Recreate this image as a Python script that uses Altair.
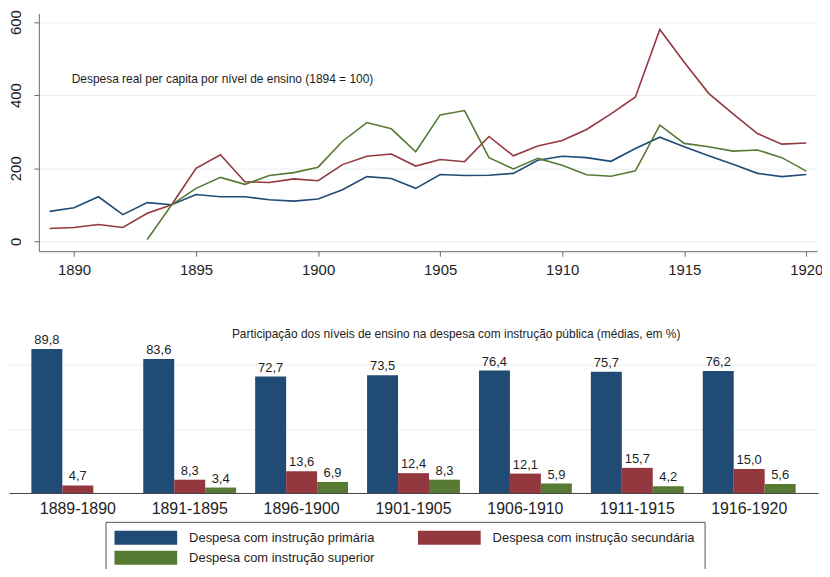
import altair as alt
import pandas as pd

FONT = "Liberation Sans"

# ---------------- data: line chart (index 1894 = 100) ----------------
years = list(range(1889, 1921))
primaria = [82, 92, 122, 73, 106, 100, 128, 122, 122, 114, 110, 116, 141, 177, 172, 145,
            183, 180, 181, 186, 222, 233, 229, 219, 254, 285, 259, 234, 211, 186, 177, 183]
secundaria = [35, 38, 46, 38, 77, 100, 200, 237, 163, 161, 171, 166, 210, 233, 239, 206,
              224, 218, 287, 234, 261, 276, 306, 349, 395, 580, 490, 405, 349, 295, 266, 269]
superior = [None, None, None, None, 5, 100, 145, 175, 156, 180, 188, 203, 274, 325, 308, 245,
            346, 358, 229, 198, 227, 208, 182, 178, 193, 318, 268, 259, 247, 250, 229, 192]

# ---------------- data: bar chart (shares, %) ----------------
periods = ["1889-1890", "1891-1895", "1896-1900", "1901-1905", "1906-1910", "1911-1915", "1916-1920"]
share_primaria = [89.8, 83.6, 72.7, 73.5, 76.4, 75.7, 76.2]
share_secundaria = [4.7, 8.3, 13.6, 12.4, 12.1, 15.7, 15.0]
share_superior = [None, 3.4, 6.9, 8.3, 5.9, 4.2, 5.6]

series_names = ["Despesa com instrução primária",
                "Despesa com instrução secundária",
                "Despesa com instrução superior"]
colors = ["#1f4b75", "#93383f", "#577a33"]

x_ticks = [1890, 1895, 1900, 1905, 1910, 1915, 1920]
y_ticks = [0, 200, 400, 600]
bar_grid = [0, 20, 40, 60, 80, 100]

title_top = ["Despesa real per capita por nível de ensino (1894 = 100)"]
title_bottom = ["Participação dos níveis de ensino na despesa com instrução pública (médias, em %)"]

# ---------------- tables ----------------
rows = []
for name, vals in zip(series_names, [primaria, secundaria, superior]):
    for y, v in zip(years, vals):
        if v is not None:
            rows.append({"ano": y, "valor": v, "serie": name})
df_line = pd.DataFrame(rows)

rows = []
for name, vals in zip(series_names, [share_primaria, share_secundaria, share_superior]):
    for p, v in zip(periods, vals):
        if v is not None:
            rows.append({"periodo": p, "valor": v, "serie": name})
df_bar = pd.DataFrame(rows)

GRID = "#e8eff1"
AXIS = "#6b6b6b"
TXT = "#1e1e1e"

color_scale = alt.Scale(domain=series_names, range=colors)

# ---------------- top: line chart ----------------
lines = alt.Chart(df_line).mark_line(strokeWidth=1.6).encode(
    x=alt.X("ano:Q",
            scale=alt.Scale(domain=[1888.56, 1920.44], nice=False, zero=False),
            axis=alt.Axis(values=x_ticks, format="d", title=None, grid=False,
                          tickSize=5, labelPadding=6, labelFontSize=15, labelFlush=False,
                          domainColor=AXIS, tickColor=AXIS, labelColor=TXT)),
    y=alt.Y("valor:Q",
            scale=alt.Scale(domain=[-27, 624], nice=False, zero=False),
            axis=alt.Axis(values=y_ticks, title=None, grid=True, gridColor=GRID,
                          tickSize=5, labelPadding=10, labelFontSize=15,
                          labelAngle=270, labelAlign="center", labelBaseline="bottom",
                          labelFlush=False,
                          minExtent=30, maxExtent=30,
                          domainColor=AXIS, tickColor=AXIS, labelColor=TXT)),
    color=alt.Color("serie:N", scale=color_scale, legend=None),
)

top_title = alt.Chart(pd.DataFrame({"t": title_top})).mark_text(
    align="left", baseline="middle", fontSize=12, color=TXT, font=FONT
).encode(text="t:N", x=alt.value(33), y=alt.value(65.5))

top = alt.layer(lines, top_title).properties(width=782, height=239)

# ---------------- bottom: grouped bars ----------------
base = alt.Chart(df_bar).encode(
    x=alt.X("periodo:N", sort=periods,
            scale=alt.Scale(paddingInner=0.17, paddingOuter=0.2, range=[-30, 783]),
            axis=alt.Axis(title=None, labelAngle=0, labelFontSize=16, ticks=False,
                          labelPadding=8, domainColor="#444444", labelColor=TXT)),
    xOffset=alt.XOffset("serie:N", sort=series_names,
                        scale=alt.Scale(domain=series_names, paddingInner=0, paddingOuter=0)),
)

bars = base.mark_bar().encode(
    y=alt.Y("valor:Q", scale=alt.Scale(domain=[0, 100], nice=False),
            axis=alt.Axis(values=bar_grid, title=None, labels=False, ticks=False,
                          domain=False, grid=True, gridColor=GRID,
                          minExtent=0, maxExtent=0)),
    color=alt.Color("serie:N", scale=color_scale,
                    legend=alt.Legend(
                        title=None, orient="none", legendX=67, legendY=190,
                        direction="horizontal", columns=2, columnPadding=43, rowPadding=6,
                        symbolType="M-1,-1H8V1H-1Z", symbolSize=196,
                        symbolStrokeWidth=0, symbolOpacity=1,
                        labelOffset=61, labelFontSize=13, labelLimit=400,
                        labelColor=TXT, labelFont=FONT,
                        padding=9, strokeColor="#555555", fillColor="white")),
)

labels = base.mark_text(baseline="bottom", dy=-2, fontSize=13, color=TXT, font=FONT).transform_calculate(
    rotulo="replace(format(datum.valor, '.1f'), '.', ',')"
).encode(
    y=alt.Y("valor:Q"),
    text=alt.Text("rotulo:N"),
)

bottom_title = alt.Chart(pd.DataFrame({"t": title_bottom})).mark_text(
    align="left", baseline="middle", fontSize=12, color=TXT, font=FONT
).encode(text="t:N", x=alt.value(194), y=alt.value(1))

bottom = alt.layer(bars, labels, bottom_title).properties(width=782, height=161)

chart = alt.concat(top, bottom, columns=1, spacing=51).resolve_scale(
    color="independent"
).properties(
    padding={"left": 0, "top": 0, "right": -26, "bottom": -7}
).configure(
    font=FONT
).configure_view(
    stroke=None
).configure_axis(
    labelFont=FONT
)

chart.save("out.html", embed_options={"renderer": "svg", "actions": False})
